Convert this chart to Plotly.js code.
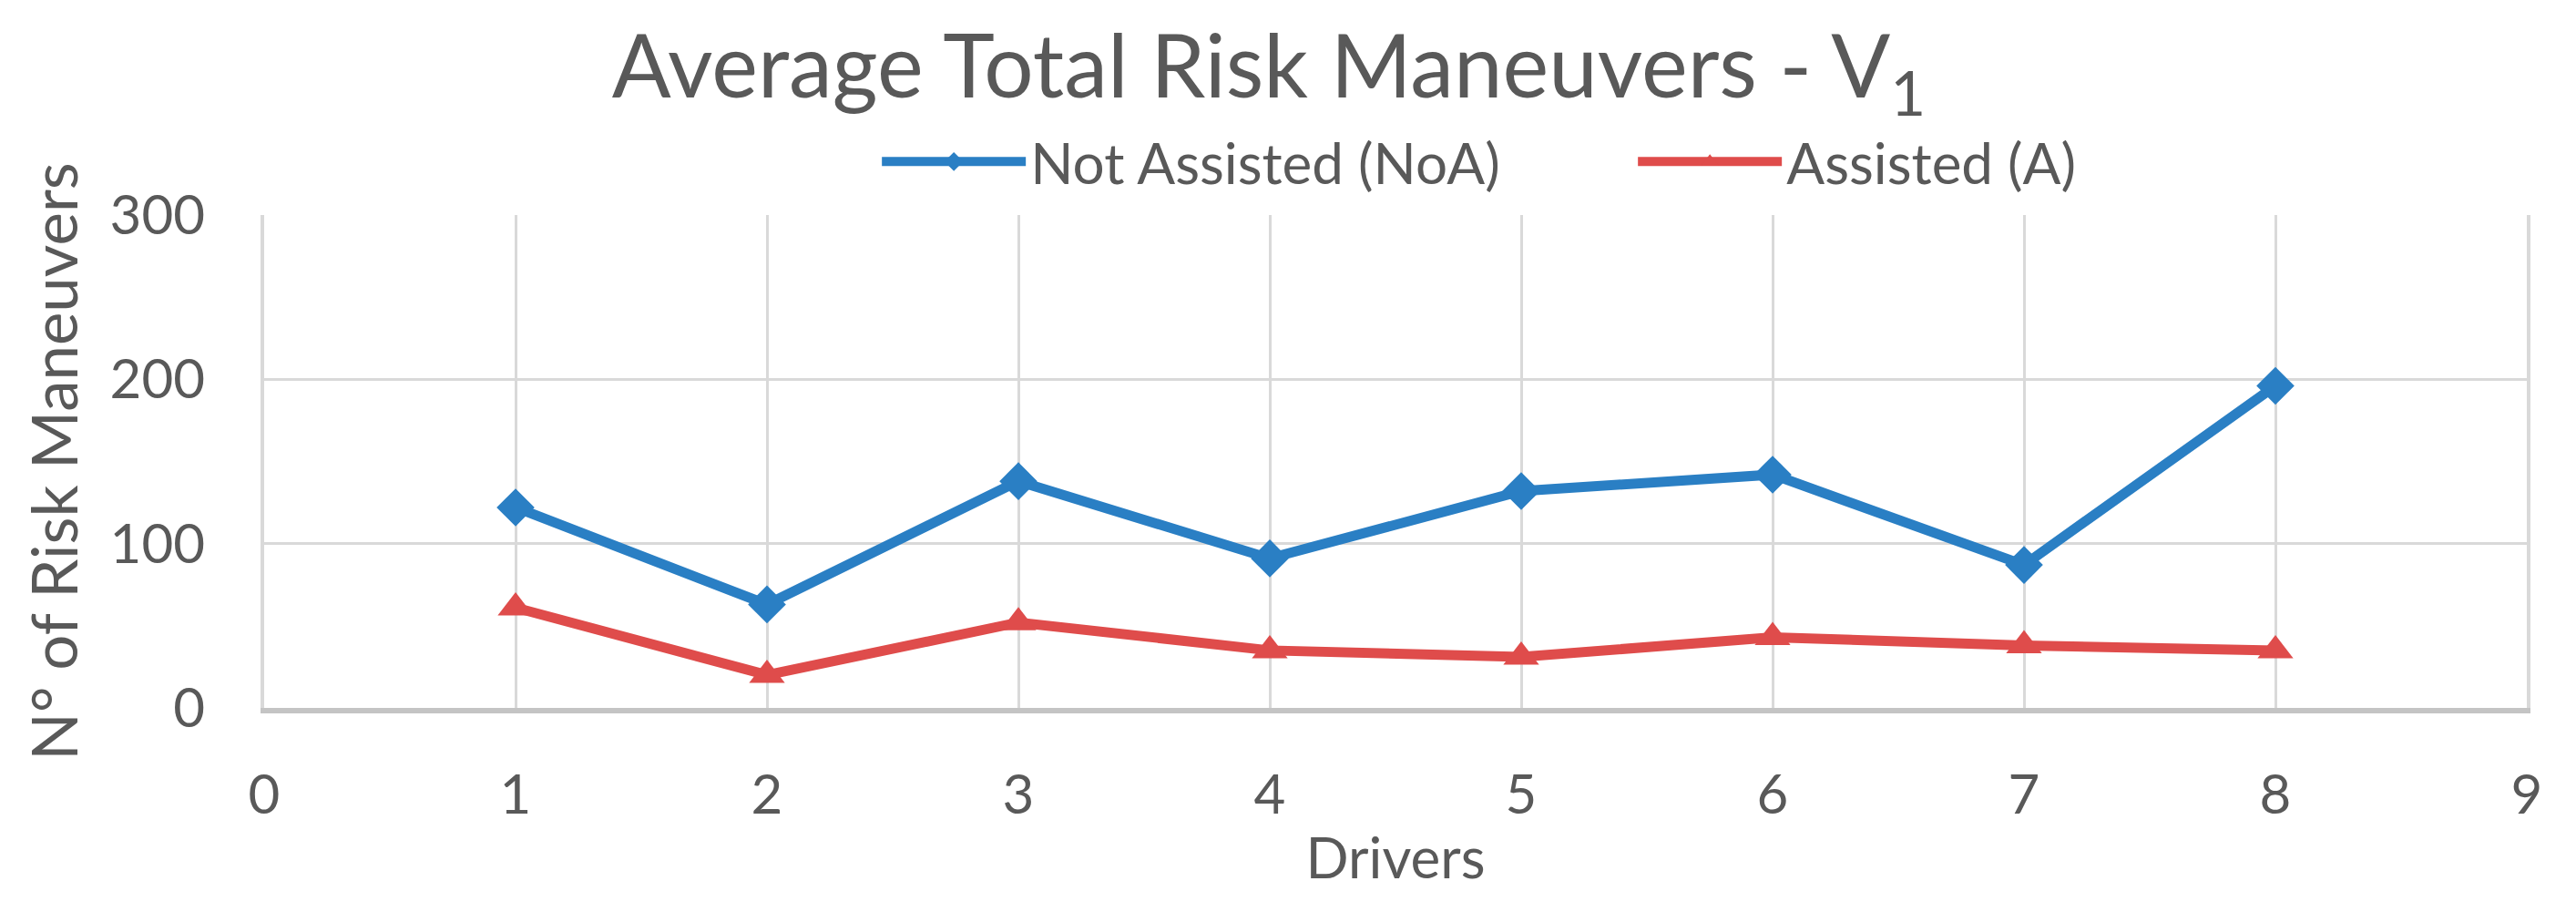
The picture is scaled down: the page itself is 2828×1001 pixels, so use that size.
<!DOCTYPE html>
<html>
<head>
<meta charset="utf-8">
<script src="https://cdn.plot.ly/plotly-3.0.1.min.js"></script>
<style>
html, body { margin: 0; padding: 0; background: #ffffff; }
#chart { width: 2828px; height: 1001px; }
</style>
</head>
<body>
<div id="chart"></div>
<script>
const drivers = [1, 2, 3, 4, 5, 6, 7, 8];
const notAssisted = [122, 63, 138, 91, 132, 142, 87, 196];
const assisted = [61, 20, 52, 35, 31, 43, 38, 35];
const seriesNames = ['Not Assisted (NoA)', 'Assisted (A)'];
const xTicks = [0, 1, 2, 3, 4, 5, 6, 7, 8, 9];
const yTicks = [0, 100, 200, 300];

const FONT = 'Lato, "Open Sans", sans-serif';
const TXT = '#595959';

const traces = [
  {
    x: drivers, y: notAssisted, name: seriesNames[0],
    type: 'scatter', mode: 'lines+markers',
    line: { color: '#2a7fc4', width: 11 },
    marker: { symbol: 'diamond', size: 32, color: '#2a7fc4' }
  },
  {
    x: drivers, y: assisted, name: seriesNames[1],
    type: 'scatter', mode: 'lines+markers',
    line: { color: '#df4c4b', width: 11 },
    marker: { symbol: 'triangle-up', size: 34, color: '#df4c4b' }
  }
];

const layout = {
  width: 2828, height: 1001,
  paper_bgcolor: '#ffffff', plot_bgcolor: '#ffffff',
  margin: { l: 290, r: 54, t: 236, b: 224 },
  font: { family: FONT, color: TXT, size: 60 },
  title: {
    text: 'Average Total Risk Maneuvers - V<sub>1</sub>',
    font: { family: FONT, size: 96, color: TXT },
    x: 0.4926, xanchor: 'center', xref: 'container',
    y: 0.96, yanchor: 'top', yref: 'container'
  },
  showlegend: true,
  legend: {
    orientation: 'h',
    x: 0.271, xanchor: 'left', xref: 'paper',
    y: 1.108, yanchor: 'middle',
    font: { family: FONT, size: 62, color: TXT },
    itemwidth: 158,
    itemsizing: 'trace',
    entrywidth: 657, entrywidthmode: 'pixels',
    bgcolor: 'rgba(0,0,0,0)'
  },
  xaxis: {
    range: [0, 9],
    tickvals: xTicks,
    ticktext: xTicks.map(String),
    showgrid: true, gridcolor: '#d9d9d9', gridwidth: 3,
    zeroline: false,
    showline: true, linecolor: '#c4c4c4', linewidth: 6,
    ticks: '', ticklabelstandoff: 38,
    tickfont: { family: FONT, size: 60, color: TXT },
    title: { text: 'Drivers', font: { family: FONT, size: 62, color: TXT }, standoff: 18 }
  },
  yaxis: {
    range: [0, 300],
    tickvals: yTicks,
    ticktext: yTicks.map(String),
    showgrid: true, gridcolor: '#d9d9d9', gridwidth: 3,
    zeroline: false,
    showline: true, mirror: true, linecolor: '#d9d9d9', linewidth: 4,
    ticks: '', ticklabelstandoff: 49,
    tickfont: { family: FONT, size: 60, color: TXT },
    title: { text: 'N° of Risk Maneuvers', font: { family: FONT, size: 69, color: TXT }, standoff: 13 }
  }
};

Plotly.newPlot('chart', traces, layout, { displayModeBar: false, staticPlot: true });
</script>
</body>
</html>
